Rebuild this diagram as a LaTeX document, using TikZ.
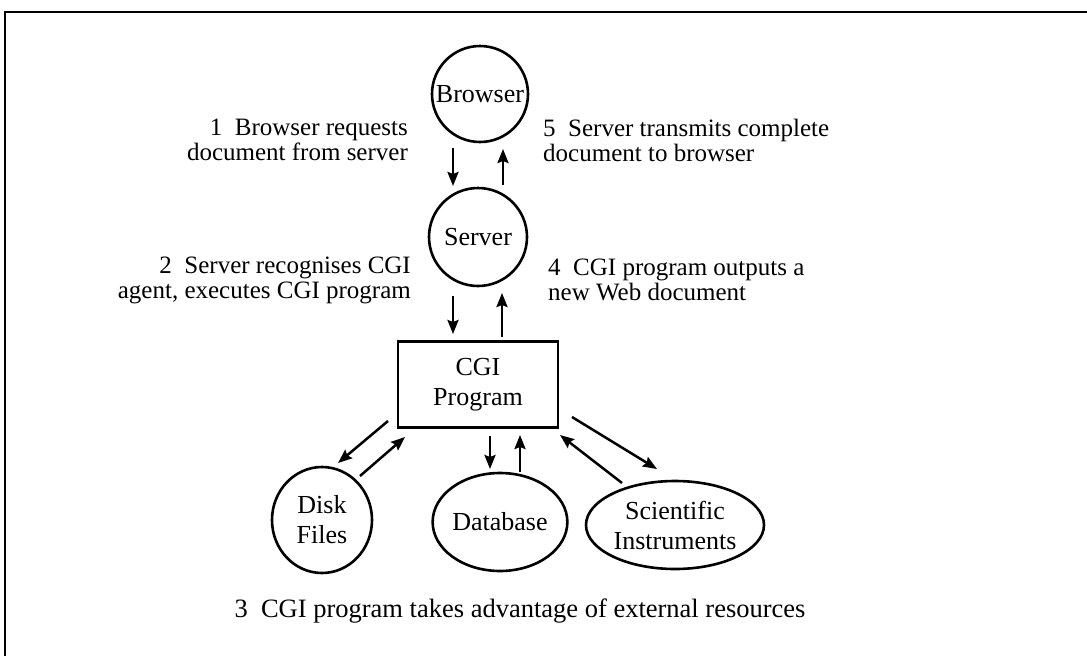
\documentclass[tikz,border=0pt]{standalone}
\usepackage{fontspec}
\setmainfont{Liberation Serif}
\usetikzlibrary{shapes.geometric,arrows.meta}
\begin{document}
\begin{tikzpicture}[x=1pt,y=-1pt,
  every node/.style={font=\fontsize{26}{30}\selectfont, inner sep=0pt},
  circ/.style={draw, circle, line width=2.6pt},
  ell/.style={draw, ellipse, line width=2.6pt, align=center},
  box/.style={draw, rectangle, line width=2.6pt, align=center},
  lbl/.style={align=left, font=\fontsize{25}{25}\selectfont},
  lblr/.style={align=right, font=\fontsize{25}{25}\selectfont},
  arr/.style={line width=2.5pt, -{Stealth[length=14pt,width=11pt,inset=2pt]}},
  frame/.style={line width=2.8pt}]
\useasboundingbox (0,0) rectangle (1087,656);
% frame
\coordinate (ftl) at (5,12);
\coordinate (ftr) at (1087,12);
\coordinate (fbl) at (5,656);
\draw[frame] (ftr) -- (ftl) -- (fbl);
% nodes
\node[circ, minimum size=96pt] (browser) at (480,94) {Browser};
\node[circ, minimum size=98pt] (server) at (478,237) {Server};
\node[box, minimum width=160pt, minimum height=86pt] (cgi) at (478,384.5) {CGI\\Program};
\node[ell, minimum width=100pt, minimum height=106pt] (disk) at (322,520) {Disk\\Files};
\node[ell, minimum width=124pt, minimum height=98pt] (db) at (500,522) {Database};
\node[ell, minimum width=178pt, minimum height=88pt] (sci) at (675,525) {Scientific\\Instruments};
% labels
\node[lblr, anchor=east] (l1) at (408,140) {1\ \ Browser requests\\document from server};
\node[lbl, anchor=west] (l5) at (543,140) {5\ \ Server transmits complete\\document to browser};
\node[lblr, anchor=east] (l2) at (411,280) {2\ \ Server recognises CGI\\agent, executes CGI program};
\node[lbl, anchor=west] (l4) at (548,280) {4\ \ CGI program outputs a\\new Web document};
\node[font=\fontsize{26.5}{30}\selectfont] (l3) at (520,611) {3\ \ CGI program takes advantage of external resources};
% arrow coordinates
\coordinate (a1s) at (453,148); \coordinate (a1e) at (453,186);
\coordinate (a5s) at (503,185); \coordinate (a5e) at (503,149);
\coordinate (a2s) at (453,296); \coordinate (a2e) at (453,334);
\coordinate (a4s) at (502,337); \coordinate (a4e) at (502,293);
\coordinate (d1s) at (388,421); \coordinate (d1e) at (338,463);
\coordinate (d2s) at (360,476); \coordinate (d2e) at (405,437);
\coordinate (b1s) at (490,436); \coordinate (b1e) at (490,469);
\coordinate (b2e) at (520,435);
\coordinate (s1s) at (572,417); \coordinate (s1e) at (657,469);
\coordinate (s2s) at (622,483); \coordinate (s2e) at (560,435);
\draw[arr] (a1s) -- (a1e);
\draw[arr] (a5s) -- (a5e);
\draw[arr] (a2s) -- (a2e);
\draw[arr] (a4s) -- (a4e);
\draw[arr] (d1s) -- (d1e);
\draw[arr] (d2s) -- (d2e);
\draw[arr] (b1s) -- (b1e);
\draw[arr] (db.north -| b2e) -- (b2e);
\draw[arr] (s1s) -- (s1e);
\draw[arr] (s2s) -- (s2e);
\end{tikzpicture}
\end{document}
